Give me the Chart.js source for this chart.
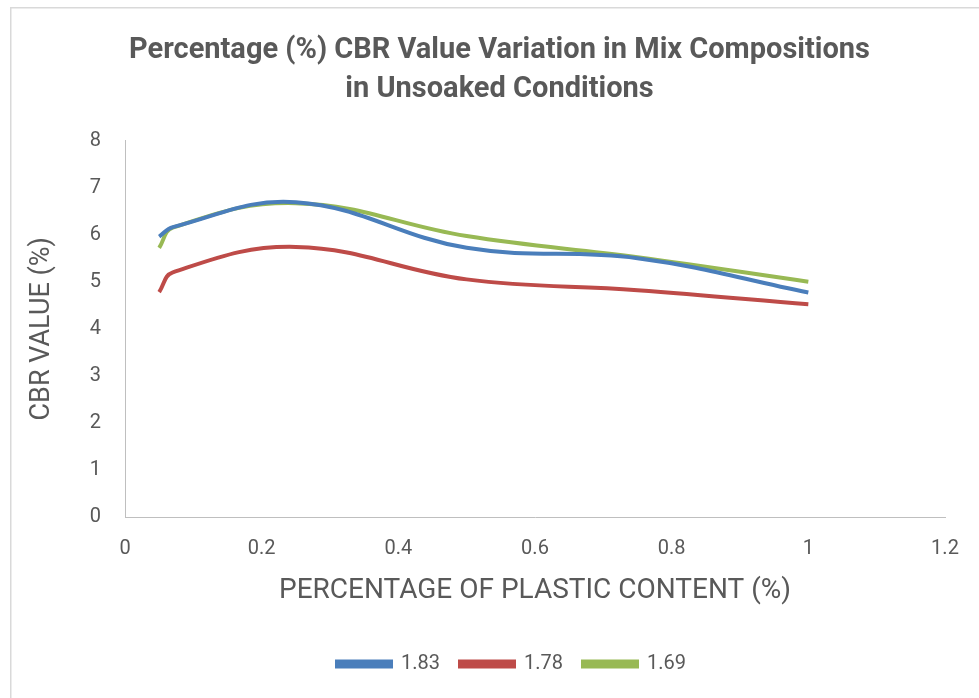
<!DOCTYPE html>
<html>
<head>
<meta charset="utf-8">
<script src="https://cdn.jsdelivr.net/npm/chart.js@4.4.1/dist/chart.umd.min.js"></script>
<style>
  html, body { margin: 0; padding: 0; background: #fff; }
  #wrap { position: relative; width: 979px; height: 698px; }
</style>
</head>
<body>
<div id="wrap"><canvas id="cbr-chart" width="979" height="698"></canvas></div>
<script>
// plastic content (%) at each test point
const plasticContent = [0.05, 0.07, 0.25, 0.5, 0.75, 1.0];

// CBR values (%) for each dry density mix
const cbr183 = [5.96, 6.16, 6.69, 5.72, 5.50, 4.77];
const cbr178 = [4.78, 5.20, 5.74, 5.05, 4.82, 4.52];
const cbr169 = [5.72, 6.15, 6.67, 5.97, 5.52, 5.00];

const seriesNames = ['1.83', '1.78', '1.69'];
const seriesColors = ['#4A7EBB', '#BE4B48', '#98B954'];

const xTicks = [0, 0.2, 0.4, 0.6, 0.8, 1, 1.2];
const yTicks = [0, 1, 2, 3, 4, 5, 6, 7, 8];

const textColor = '#595959';
const fontFam = "'Roboto', sans-serif";

function toPoints(values) {
    return plasticContent.map((x, i) => ({ x: x, y: values[i] }));
}

// light frame round the chart, like the exported Excel picture
const outerBorder = {
    id: 'outerBorder',
    afterDraw(chart) {
        const c = chart.ctx;
        c.save();
        c.strokeStyle = '#d9d9d9';
        c.lineWidth = 1.5;
        c.strokeRect(10.75, 7.75, 1000, 1000);
        c.restore();
    }
};

// title and legend sit a bit right of the canvas centre in the reference
const nudgeBoxes = {
    id: 'nudgeBoxes',
    afterLayout(chart) {
        if (chart.titleBlock) { chart.titleBlock.left += 20; chart.titleBlock.right += 20; }
        if (chart.legend) { chart.legend.left += 32; chart.legend.right += 32; }
    }
};

const ctx = document.getElementById('cbr-chart').getContext('2d');

new Chart(ctx, {
    type: 'scatter',
    data: {
        datasets: [cbr183, cbr178, cbr169].map((vals, i) => ({
            label: seriesNames[i],
            data: toPoints(vals),
            showLine: true,
            tension: 0.4,
            borderColor: seriesColors[i],
            backgroundColor: seriesColors[i],
            borderWidth: 4,
            pointRadius: 0,
            pointHoverRadius: 0,
            fill: false
        }))
    },
    options: {
        responsive: false,
        animation: false,
        layout: { padding: { left: 14, right: 34, top: 14, bottom: 14 } },
        plugins: {
            title: {
                display: true,
                text: ['Percentage (%) CBR Value Variation in Mix Compositions', 'in Unsoaked Conditions'],
                color: textColor,
                font: { family: fontFam, size: 29, weight: 'bold', lineHeight: 1.32 },
                padding: { top: 18, bottom: 32 }
            },
            legend: {
                position: 'bottom',
                labels: {
                    color: textColor,
                    font: { family: fontFam, size: 20 },
                    boxWidth: 54,
                    boxHeight: 5,
                    padding: 20
                }
            },
            tooltip: { enabled: false }
        },
        scales: {
            x: {
                type: 'linear',
                min: 0,
                max: 1.2,
                afterBuildTicks(scale) { scale.ticks = xTicks.map(v => ({ value: v })); },
                afterFit(scale) { scale.height = 117; },
                grid: { display: false },
                border: { display: true, color: '#bfbfbf', width: 1 },
                ticks: {
                    color: textColor,
                    font: { family: fontFam, size: 20 },
                    padding: 12,
                    callback: v => String(Number(v.toFixed(1)))
                },
                title: {
                    display: true,
                    text: 'PERCENTAGE OF PLASTIC CONTENT (%)',
                    color: textColor,
                    font: { family: fontFam, size: 28 },
                    padding: { top: 10, bottom: 26 }
                }
            },
            y: {
                type: 'linear',
                min: 0,
                max: 8,
                afterBuildTicks(scale) { scale.ticks = yTicks.map(v => ({ value: v })); },
                afterFit(scale) { scale.width = 111; },
                grid: { display: false },
                border: { display: true, color: '#bfbfbf', width: 1 },
                ticks: {
                    color: textColor,
                    font: { family: fontFam, size: 20 },
                    padding: 16
                },
                title: {
                    display: true,
                    text: 'CBR VALUE (%)',
                    color: textColor,
                    font: { family: fontFam, size: 27 },
                    padding: { top: 12, bottom: 10 }
                }
            }
        }
    },
    plugins: [outerBorder, nudgeBoxes]
});
</script>
</body>
</html>
